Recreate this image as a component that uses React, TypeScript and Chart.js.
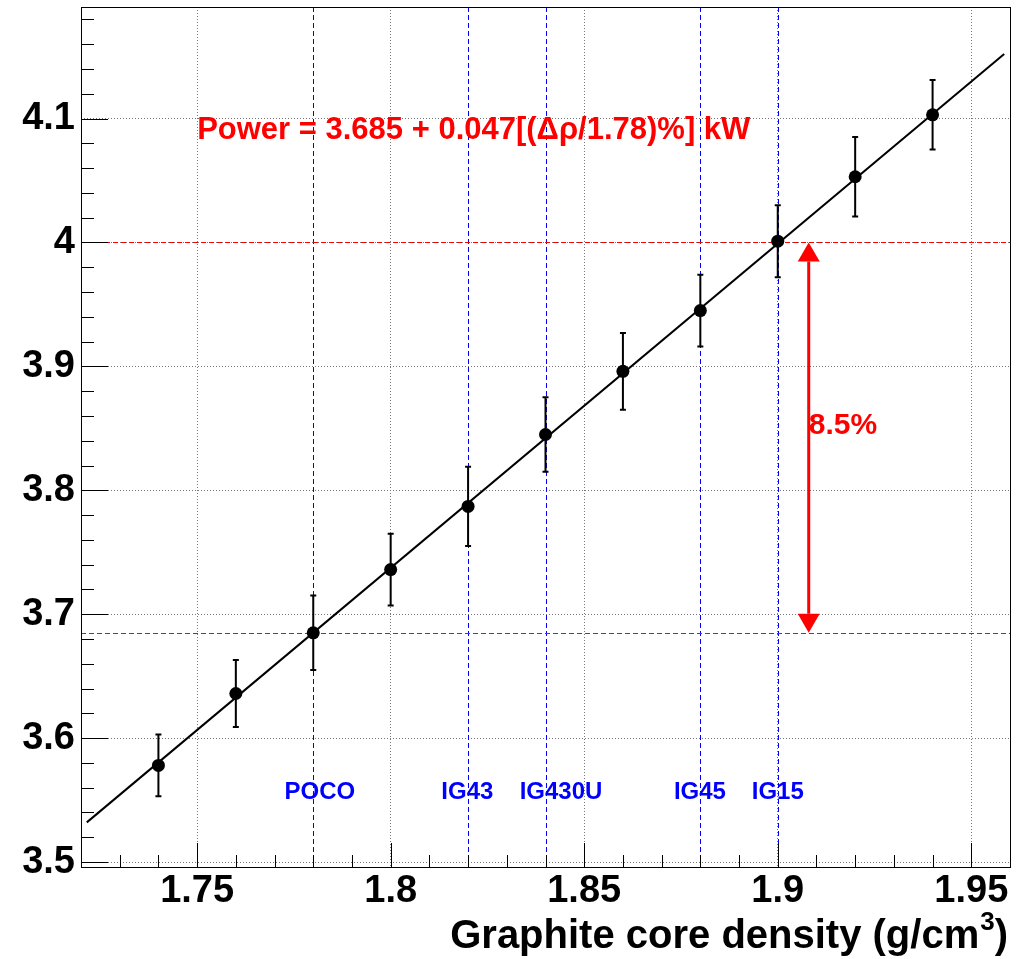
import React, { useEffect, useRef } from "react";
import { Chart, registerables } from "chart.js";

Chart.register(...registerables);

// ---- data ----
const densities = [1.74, 1.76, 1.78, 1.8, 1.82, 1.84, 1.86, 1.88, 1.9, 1.92, 1.94];
const powers = [3.578, 3.636, 3.685, 3.736, 3.787, 3.845, 3.896, 3.945, 4.001, 4.053, 4.103];
const powerErrors = [0.025, 0.027, 0.030, 0.029, 0.032, 0.030, 0.031, 0.029, 0.029, 0.032, 0.028];

const fitX = [1.7215, 1.9585];
const fitY = [3.532, 4.152];

const xTickValues = [1.75, 1.8, 1.85, 1.9, 1.95];
const xTickLabels = ["1.75", "1.8", "1.85", "1.9", "1.95"];
const yTickValues = [3.5, 3.6, 3.7, 3.8, 3.9, 4.0, 4.1];
const yTickLabels = ["3.5", "3.6", "3.7", "3.8", "3.9", "4", "4.1"];
const xMinorTicks = [1.73, 1.74, 1.76, 1.77, 1.78, 1.79, 1.81, 1.82, 1.83, 1.84, 1.86, 1.87, 1.88, 1.89, 1.91, 1.92, 1.93, 1.94];
const yMinorTicks = [3.52, 3.54, 3.56, 3.58, 3.62, 3.64, 3.66, 3.68, 3.72, 3.74, 3.76, 3.78, 3.82, 3.84, 3.86, 3.88, 3.92, 3.94, 3.96, 3.98, 4.02, 4.04, 4.06, 4.08, 4.12, 4.14, 4.16, 4.18];

const materialNames = ["POCO", "IG43", "IG430U", "IG45", "IG15"];
const materialDensities = [1.78, 1.82, 1.84, 1.88, 1.9];
const materialLabelX = [1.7817, 1.8198, 1.844, 1.8799, 1.9];
const materialLabelY = 3.556;

const referencePowers = [4.0, 3.685];
const arrowDensity = 1.908;
const percentLabel = "8.5%";
const percentLabelY = 3.852;
const formulaLabel = "Power = 3.685 + 0.047[(\u0394\u03c1/1.78)%] kW";
const formulaX = 1.75;
const formulaY = 4.09;
const xTitleMain = "Graphite core density (g/cm";
const xTitleSup = "3";
const xTitleEnd = ")";

const X_MIN = 1.72;
const X_MAX = 1.96;
const Y_MIN = 3.496;
const Y_MAX = 4.19;

const FONT = "'Liberation Sans', Arial, Helvetica, sans-serif";

const overlayPlugin = {
  id: "rootStyle",
  beforeDatasetsDraw(chart: any) {
    const { ctx, chartArea: a, scales } = chart;
    const xs = scales.x;
    const ys = scales.y;
    ctx.save();
    ctx.lineWidth = 1;
    ctx.setLineDash([5, 3]);
    // blue vertical dashed lines
    ctx.strokeStyle = "#0000ff";
    ctx.beginPath();
    materialDensities.forEach((d) => {
      const px = Math.round(xs.getPixelForValue(d)) + 0.5;
      ctx.moveTo(px, a.top);
      ctx.lineTo(px, a.bottom);
    });
    ctx.stroke();
    // red horizontal dashed lines
    ctx.strokeStyle = "#ff0000";
    ctx.beginPath();
    referencePowers.forEach((p) => {
      const py = Math.round(ys.getPixelForValue(p)) + 0.5;
      ctx.moveTo(a.left, py);
      ctx.lineTo(a.right, py);
    });
    ctx.stroke();
    ctx.setLineDash([]);
    // error bars
    ctx.strokeStyle = "#000";
    ctx.lineWidth = 2;
    ctx.beginPath();
    densities.forEach((d, i) => {
      const px = xs.getPixelForValue(d);
      const top = ys.getPixelForValue(powers[i] + powerErrors[i]);
      const bot = ys.getPixelForValue(powers[i] - powerErrors[i]);
      ctx.moveTo(px, top);
      ctx.lineTo(px, bot);
      ctx.moveTo(px - 3, top);
      ctx.lineTo(px + 3, top);
      ctx.moveTo(px - 3, bot);
      ctx.lineTo(px + 3, bot);
    });
    ctx.stroke();
    ctx.restore();
  },
  afterDraw(chart: any) {
    const { ctx, chartArea: a, scales } = chart;
    const xs = scales.x;
    const ys = scales.y;
    ctx.save();
    // inner ticks
    ctx.strokeStyle = "#000";
    ctx.lineWidth = 1;
    ctx.beginPath();
    xTickValues.forEach((v) => {
      const px = Math.round(xs.getPixelForValue(v)) + 0.5;
      ctx.moveTo(px, a.bottom);
      ctx.lineTo(px, a.bottom - 24);
    });
    xMinorTicks.forEach((v) => {
      const px = Math.round(xs.getPixelForValue(v)) + 0.5;
      ctx.moveTo(px, a.bottom);
      ctx.lineTo(px, a.bottom - 12);
    });
    yTickValues.forEach((v) => {
      const py = Math.round(ys.getPixelForValue(v)) + 0.5;
      ctx.moveTo(a.left, py);
      ctx.lineTo(a.left + 27, py);
    });
    yMinorTicks.forEach((v) => {
      const py = Math.round(ys.getPixelForValue(v)) + 0.5;
      ctx.moveTo(a.left, py);
      ctx.lineTo(a.left + 13, py);
    });
    ctx.stroke();
    // frame
    ctx.strokeRect(Math.round(a.left) + 0.5, Math.round(a.top) + 0.5, Math.round(a.right - a.left), Math.round(a.bottom - a.top));

    // arrow
    const ax = xs.getPixelForValue(arrowDensity);
    const yTop = ys.getPixelForValue(referencePowers[0]);
    const yBot = ys.getPixelForValue(referencePowers[1]);
    const headH = 19;
    const headW = 11;
    ctx.fillStyle = "#ff0000";
    ctx.strokeStyle = "#ff0000";
    ctx.lineWidth = 3;
    ctx.beginPath();
    ctx.moveTo(ax, yTop + headH);
    ctx.lineTo(ax, yBot - headH);
    ctx.stroke();
    ctx.beginPath();
    ctx.moveTo(ax, yTop);
    ctx.lineTo(ax - headW, yTop + headH);
    ctx.lineTo(ax + headW, yTop + headH);
    ctx.closePath();
    ctx.fill();
    ctx.beginPath();
    ctx.moveTo(ax, yBot);
    ctx.lineTo(ax - headW, yBot - headH);
    ctx.lineTo(ax + headW, yBot - headH);
    ctx.closePath();
    ctx.fill();

    // texts
    ctx.textBaseline = "middle";
    ctx.textAlign = "left";
    ctx.font = `bold 30px ${FONT}`;
    ctx.fillText(percentLabel, ax, ys.getPixelForValue(percentLabelY));
    ctx.font = `bold 31px ${FONT}`;
    ctx.fillText(formulaLabel, xs.getPixelForValue(formulaX), ys.getPixelForValue(formulaY));

    ctx.fillStyle = "#0000ff";
    ctx.font = `bold 24px ${FONT}`;
    ctx.textAlign = "center";
    materialNames.forEach((n, i) => {
      ctx.fillText(n, xs.getPixelForValue(materialLabelX[i]), ys.getPixelForValue(materialLabelY));
    });

    // x-axis title with superscript
    ctx.fillStyle = "#000";
    ctx.textBaseline = "alphabetic";
    ctx.textAlign = "left";
    const mainFont = `bold 40px ${FONT}`;
    const supFont = `bold 26px ${FONT}`;
    ctx.font = mainFont;
    const wMain = ctx.measureText(xTitleMain).width;
    const wEnd = ctx.measureText(xTitleEnd).width;
    ctx.font = supFont;
    const wSup = ctx.measureText(xTitleSup).width;
    const rightEdge = a.right - 3;
    const baseY = 948;
    let x0 = rightEdge - (wMain + wSup + wEnd);
    ctx.font = mainFont;
    ctx.fillText(xTitleMain, x0, baseY);
    ctx.font = supFont;
    ctx.fillText(xTitleSup, x0 + wMain + 1, baseY - 18);
    ctx.font = mainFont;
    ctx.fillText(xTitleEnd, x0 + wMain + wSup + 1, baseY);
    ctx.restore();
  },
};

export default function App() {
  const canvasRef = useRef<HTMLCanvasElement | null>(null);

  useEffect(() => {
    if (!canvasRef.current) return;
    const chart = new Chart(canvasRef.current, {
      type: "scatter",
      data: {
        datasets: [
          {
            type: "line",
            label: "fit",
            data: fitX.map((x, i) => ({ x, y: fitY[i] })),
            borderColor: "#000",
            borderWidth: 2,
            pointRadius: 0,
            fill: false,
            order: 2,
          } as any,
          {
            type: "scatter",
            label: "data",
            data: densities.map((x, i) => ({ x, y: powers[i] })),
            backgroundColor: "#000",
            borderColor: "#000",
            borderWidth: 0,
            pointRadius: 6.5,
            order: 1,
          },
        ],
      },
      options: {
        animation: false,
        responsive: false,
        devicePixelRatio: 1,
        layout: { padding: { top: 7, right: 18, left: 0, bottom: 0 } },
        plugins: {
          legend: { display: false },
          tooltip: { enabled: false },
        },
        scales: {
          x: {
            type: "linear",
            min: X_MIN,
            max: X_MAX,
            afterBuildTicks: (s: any) => {
              s.ticks = xTickValues.map((v) => ({ value: v }));
            },
            afterFit: (s: any) => {
              s.height = 92;
              s.paddingLeft = 0;
              s.paddingRight = 0;
            },
            ticks: {
              autoSkip: false,
              maxRotation: 0,
              padding: 2,
              color: "#000",
              font: { family: FONT, weight: "bold", size: 38 },
              callback: (v: any) => {
                const i = xTickValues.indexOf(v);
                return i >= 0 ? xTickLabels[i] : "";
              },
            },
            grid: { color: "#777", lineWidth: 1, drawTicks: false },
            border: { display: false, dash: [1, 2] },
          },
          y: {
            type: "linear",
            min: Y_MIN,
            max: Y_MAX,
            afterBuildTicks: (s: any) => {
              s.ticks = yTickValues.map((v) => ({ value: v }));
            },
            afterFit: (s: any) => {
              s.width = 81;
              s.paddingTop = 0;
              s.paddingBottom = 0;
            },
            ticks: {
              padding: 6,
              color: "#000",
              font: { family: FONT, weight: "bold", size: 38 },
              callback: (v: any) => {
                const i = yTickValues.indexOf(v);
                return i >= 0 ? yTickLabels[i] : "";
              },
            },
            grid: { color: "#777", lineWidth: 1, drawTicks: false },
            border: { display: false, dash: [1, 2] },
          },
        },
      },
      plugins: [overlayPlugin],
    });
    return () => chart.destroy();
  }, []);

  return (
    <div style={{ position: "absolute", left: 0, top: 0, width: 1028, height: 959, background: "#fff" }}>
      <canvas ref={canvasRef} width={1028} height={959} style={{ display: "block" }} />
    </div>
  );
}
